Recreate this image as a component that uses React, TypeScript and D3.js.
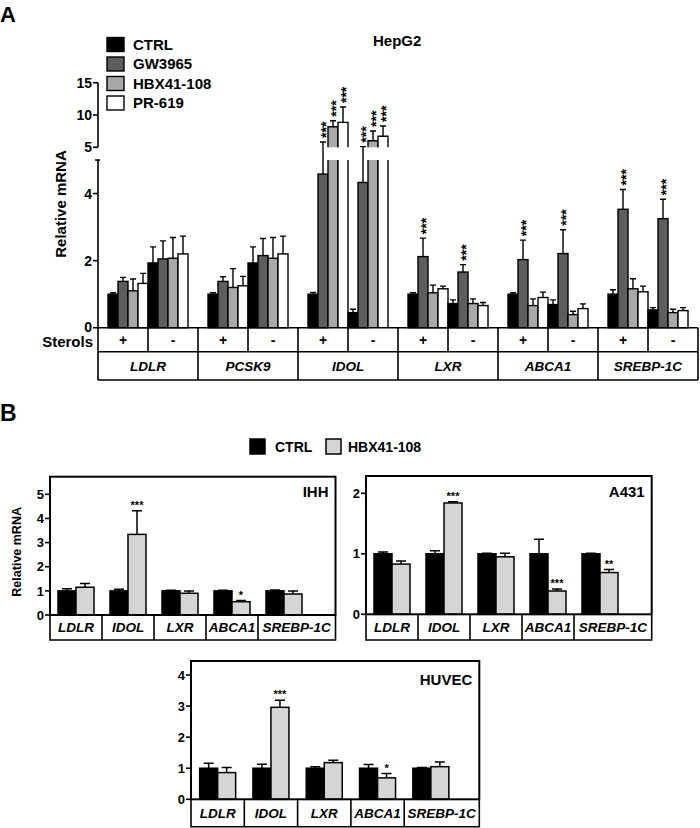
import React from 'react'
import * as d3 from 'd3'

const FONT = '"Liberation Sans", Arial, Helvetica, sans-serif'

// ---- Panel A: HepG2 ----
const genesA = ['LDLR', 'PCSK9', 'IDOL', 'LXR', 'ABCA1', 'SREBP-1C']
const sterols = ['+', '-']
const treatmentsA = ['CTRL', 'GW3965', 'HBX41-108', 'PR-619']
const colorsA = ['#000000', '#5e5e5e', '#a9a9a9', '#ffffff']
// 12 values per treatment: gene by gene, sterols + then -
const ctrlA = [1.0, 1.93, 1.0, 1.93, 1.0, 0.45, 1.0, 0.72, 1.0, 0.69, 1.0, 0.53]
const ctrlErrA = [0.04, 0.48, 0.04, 0.48, 0.05, 0.1, 0.04, 0.11, 0.04, 0.14, 0.13, 0.07]
const gwA = [1.38, 2.05, 1.38, 2.15, 4.58, 4.33, 2.12, 1.66, 2.03, 2.21, 3.53, 3.25]
const gwErrA = [0.12, 0.54, 0.14, 0.51, 1.24, 0.77, 0.55, 0.22, 0.58, 0.71, 0.59, 0.58]
const hbxA = [1.1, 2.07, 1.2, 2.07, 8.18, 6.02, 1.04, 0.72, 0.66, 0.39, 1.16, 0.45]
const hbxErrA = [0.35, 0.62, 0.56, 0.62, 0.93, 1.5, 0.23, 0.14, 0.2, 0.1, 0.3, 0.1]
const prA = [1.32, 2.2, 1.25, 2.2, 8.86, 6.7, 1.16, 0.66, 0.9, 0.57, 1.07, 0.51]
const prErrA = [0.3, 0.53, 0.28, 0.53, 2.37, 1.6, 0.08, 0.09, 0.16, 0.14, 0.17, 0.09]
const gwSigA = ['', '', '', '', '***', '***', '***', '***', '***', '***', '***', '***']
const hbxSigA = ['', '', '', '', '***', '***', '', '', '', '', '', '']
const prSigA = ['', '', '', '', '***', '***', '', '', '', '', '', '']
const ticksALow = [0, 2, 4]
const ticksAHigh = [5, 10, 15]

// ---- Panel B: other cell lines ----
const genesB = ['LDLR', 'IDOL', 'LXR', 'ABCA1', 'SREBP-1C']
const treatmentsB = ['CTRL', 'HBX41-108']
const colorsB = ['#000000', '#d5d5d5']
const ihhCtrl = [1, 1, 1, 1, 1]
const ihhCtrlErr = [0.09, 0.07, 0.03, 0.03, 0.04]
const ihhHbx = [1.15, 3.34, 0.9, 0.55, 0.87]
const ihhHbxErr = [0.16, 0.98, 0.09, 0.05, 0.12]
const ihhSig = ['', '***', '', '*', '']
const ihhTicks = [0, 1, 2, 3, 4, 5]
const a431Ctrl = [1, 1, 1, 1, 1]
const a431CtrlErr = [0.03, 0.05, 0.01, 0.24, 0.01]
const a431Hbx = [0.83, 1.84, 0.95, 0.385, 0.69]
const a431HbxErr = [0.05, 0.02, 0.06, 0.035, 0.05]
const a431Sig = ['', '***', '', '***', '**']
const a431Ticks = [0, 1, 2]
const huvecCtrl = [1, 1, 1, 1, 1]
const huvecCtrlErr = [0.16, 0.13, 0.05, 0.12, 0.02]
const huvecHbx = [0.86, 2.96, 1.18, 0.69, 1.05]
const huvecHbxErr = [0.16, 0.23, 0.08, 0.14, 0.15]
const huvecSig = ['', '***', '', '*', '']
const huvecTicks = [0, 1, 2, 3, 4]

function PanelA() {
  const seriesA = [ctrlA, gwA, hbxA, prA]
  const errA = [ctrlErrA, gwErrA, hbxErrA, prErrA]
  const sigA = [ctrlA.map(() => ''), gwSigA, hbxSigA, prSigA]

  const x0 = 98, x1 = 698
  const yBase = 327.7
  const yLow = d3.scaleLinear().domain([0, 5]).range([yBase, 160])
  const yHigh = d3.scaleLinear().domain([5, 15]).range([147.3, 82.7])
  const yA = (v: number) => (v <= 5 ? yLow(v) : yHigh(v))

  const xGene = d3.scaleBand().domain(genesA).range([x0, x1])
  const gw = xGene.bandwidth()
  const xSterol = d3.scaleBand().domain(sterols).range([10, gw - 10])
  const xTreat = d3.scaleBand().domain(treatmentsA).range([0, xSterol.bandwidth()])
  const bw = xTreat.bandwidth()

  const row1 = 351.7, row2 = 380

  const bars: React.ReactNode[] = []
  const whiskers: React.ReactNode[] = []
  const stars: React.ReactNode[] = []
  genesA.forEach((g, gi) => {
    sterols.forEach((s, si) => {
      const idx = gi * 2 + si
      treatmentsA.forEach((t, ti) => {
        const v = seriesA[ti][idx]
        const e = errA[ti][idx]
        const x = (xGene(g) as number) + (xSterol(s) as number) + (xTreat(t) as number)
        const cx = x + bw / 2
        const key = `${g}-${s}-${t}`
        if (v <= 5) {
          bars.push(
            <rect key={key} x={x} y={yLow(v)} width={bw} height={yBase - yLow(v)}
              fill={colorsA[ti]} stroke="#000" strokeWidth={1.4} />
          )
        } else {
          bars.push(
            <g key={key}>
              <rect x={x} y={yLow(5)} width={bw} height={yBase - yLow(5)} fill={colorsA[ti]} />
              <rect x={x} y={yHigh(v)} width={bw} height={yHigh(5) - yHigh(v)} fill={colorsA[ti]} />
              <path d={`M${x},${yBase}V${yLow(5)}M${x + bw},${yBase}V${yLow(5)}`}
                fill="none" stroke="#000" strokeWidth={1.4} />
              <path d={`M${x},${yHigh(5)}V${yHigh(v)}H${x + bw}V${yHigh(5)}`}
                fill="none" stroke="#000" strokeWidth={1.4} />
            </g>
          )
        }
        const yt = yA(v + e)
        whiskers.push(
          <path key={key + 'e'} d={`M${cx},${yA(v)}V${yt}M${cx - 3},${yt}H${cx + 3}`}
            fill="none" stroke="#000" strokeWidth={1.4} />
        )
        const sg = sigA[ti][idx]
        if (sg) {
          const sy = yt - 4
          stars.push(
            <text key={key + 's'} x={cx} y={sy} dy="0.58em" transform={`rotate(-90,${cx},${sy})`}
              fontSize={14} fontWeight="bold" textAnchor="start">{sg}</text>
          )
        }
      })
    })
  })

  return (
    <g fontFamily={FONT}>
      <text x={0} y={22} fontSize={22} fontWeight="bold">A</text>
      <text x={373} y={46} fontSize={15} fontWeight="bold">HepG2</text>

      {treatmentsA.map((t, i) => (
        <g key={t}>
          <rect x={107} y={37.5 + i * 19.5} width={17} height={14} fill={colorsA[i]} stroke="#000" strokeWidth={1.4} />
          <text x={133} y={44.5 + i * 19.5} dy="0.36em" fontSize={15} fontWeight="bold">{t}</text>
        </g>
      ))}

      {bars}
      {whiskers}
      {stars}

      {/* broken y axis */}
      <g stroke="#000" strokeWidth={1.6} fill="none">
        <path d={`M${x0},${yBase}V${yLow(5)}M${x0 - 3},${yLow(5)}H${x0 + 2}`} />
        <path d={`M${x0},${yHigh(5)}V${yHigh(15)}`} />
        {ticksALow.map(t => <path key={'l' + t} d={`M${x0 - 5},${yLow(t)}H${x0}`} />)}
        {ticksAHigh.map(t => <path key={'h' + t} d={`M${x0 - 5},${yHigh(t)}H${x0}`} />)}
      </g>
      {ticksALow.map(t => (
        <text key={'tl' + t} x={x0 - 6} y={yLow(t) - (t === 0 ? 1 : 0)} dy="0.36em" textAnchor="end" fontSize={14} fontWeight="bold">{t}</text>
      ))}
      {ticksAHigh.map(t => (
        <text key={'th' + t} x={x0 - 6} y={yHigh(t)} dy="0.36em" textAnchor="end" fontSize={14} fontWeight="bold">{t}</text>
      ))}
      <text transform="translate(66,204) rotate(-90)" textAnchor="middle" fontSize={15} fontWeight="bold">Relative mRNA</text>

      {/* sterols / gene table */}
      <g stroke="#000" strokeWidth={1.6} fill="none">
        <path d={`M${x0},${yBase}H${x1}M${x0},${row1}H${x1}M${x0},${row2}H${x1}`} />
        {d3.range(genesA.length * 2 + 1).map(k => (
          <path key={'v1' + k} d={`M${x0 + k * (gw / 2)},${yBase}V${row1}`} />
        ))}
        {d3.range(genesA.length + 1).map(k => (
          <path key={'v2' + k} d={`M${x0 + k * gw},${row1}V${row2}`} />
        ))}
      </g>
      <text x={93} y={342} dy="0.36em" textAnchor="end" fontSize={15} fontWeight="bold">Sterols</text>
      {genesA.map(g => sterols.map((s, si) => (
        <text key={g + s} x={(xGene(g) as number) + si * gw / 2 + gw / 4} y={(yBase + row1) / 2} dy="0.36em"
          textAnchor="middle" fontSize={14} fontWeight="bold">{s}</text>
      )))}
      {genesA.map(g => (
        <text key={g} x={(xGene(g) as number) + gw / 2} y={(row1 + row2) / 2} dy="0.36em" textAnchor="middle"
          fontSize={13.5} fontWeight="bold" fontStyle="italic">{g}</text>
      ))}
    </g>
  )
}

type CellProps = {
  name: string
  ctrl: number[]; ctrlErr: number[]; hbx: number[]; hbxErr: number[]; sig: string[]; ticks: number[]
  left: number; right: number; top: number; zero: number; tickTopPx: number
  bandEnd: number; tableBottom: number; yLabel?: boolean; nameY: number
}

function CellPanel(p: CellProps) {
  const vals = [p.ctrl, p.hbx]
  const errs = [p.ctrlErr, p.hbxErr]
  const y = d3.scaleLinear().domain([0, p.ticks[p.ticks.length - 1]]).range([p.zero, p.tickTopPx])
  const x = d3.scaleBand().domain(genesB).range([p.left, p.bandEnd])
  const step = x.bandwidth()
  const inner = d3.scaleBand().domain(treatmentsB).range([(step - 36) / 2, (step + 36) / 2])
  const bw = inner.bandwidth()

  return (
    <g fontFamily={FONT}>
      {genesB.map((g, gi) => treatmentsB.map((t, ti) => {
        const v = vals[ti][gi]
        const e = errs[ti][gi]
        const bx = (x(g) as number) + (inner(t) as number)
        const cx = bx + bw / 2
        const yt = y(v + e)
        return (
          <g key={g + t}>
            <path d={`M${cx},${y(v)}V${yt}M${cx - 5},${yt}H${cx + 5}`} stroke="#000" strokeWidth={1.5} fill="none" />
            <rect x={bx} y={y(v)} width={bw} height={p.zero - y(v)} fill={colorsB[ti]} stroke="#000" strokeWidth={1.5} />
            {ti === 1 && p.sig[gi] ? (
              <text x={cx} y={yt - 2} textAnchor="middle" fontSize={11} fontWeight="bold">{p.sig[gi]}</text>
            ) : null}
          </g>
        )
      }))}

      <rect x={p.left} y={p.top} width={p.right - p.left} height={p.zero - p.top} fill="none" stroke="#000" strokeWidth={2} />
      <g stroke="#000" strokeWidth={1.6} fill="none">
        {p.ticks.map(t => <path key={t} d={`M${p.left - 5},${y(t)}H${p.left}`} />)}
        <path d={`M${p.left},${p.zero}V${p.tableBottom}H${p.right}V${p.zero}`} />
        {genesB.slice(1).map(g => <path key={g} d={`M${x(g)},${p.zero}V${p.tableBottom}`} />)}
      </g>
      {p.ticks.map(t => (
        <text key={t} x={p.left - 6} y={y(t)} dy="0.36em" textAnchor="end" fontSize={13} fontWeight="bold">{t}</text>
      ))}
      {genesB.map((g, gi) => {
        const a = x(g) as number
        const cx = gi === genesB.length - 1 ? (a + p.right) / 2 : a + step / 2
        return (
          <text key={g} x={cx} y={(p.zero + p.tableBottom) / 2} dy="0.36em" textAnchor="middle"
            fontSize={13.5} fontWeight="bold" fontStyle="italic">{g}</text>
        )
      })}
      <text x={p.right - 7} y={p.nameY} dy="0.36em" textAnchor="end" fontSize={15} fontWeight="bold">{p.name}</text>
      {p.yLabel ? (
        <text transform={`translate(21,${(p.top + p.zero) / 2 + 6}) rotate(-90)`} textAnchor="middle" fontSize={12.5}
          fontWeight="bold">Relative mRNA</text>
      ) : null}
    </g>
  )
}

function PanelB() {
  return (
    <g fontFamily={FONT}>
      <text x={0} y={421} fontSize={23} fontWeight="bold">B</text>
      {treatmentsB.map((t, i) => (
        <g key={t}>
          <rect x={250 + i * 76} y={439} width={15} height={15} fill={colorsB[i]} stroke="#000" strokeWidth={1.5} />
          <text x={275 + i * 73} y={446.5} dy="0.36em" fontSize={14} fontWeight="bold">{t}</text>
        </g>
      ))}
      <CellPanel name="IHH" ctrl={ihhCtrl} ctrlErr={ihhCtrlErr} hbx={ihhHbx} hbxErr={ihhHbxErr} sig={ihhSig}
        ticks={ihhTicks} left={50} right={335.5} top={476.7} zero={615} tickTopPx={494.3}
        bandEnd={310} tableBottom={640} yLabel nameY={492} />
      <CellPanel name="A431" ctrl={a431Ctrl} ctrlErr={a431CtrlErr} hbx={a431Hbx} hbxErr={a431HbxErr} sig={a431Sig}
        ticks={a431Ticks} left={366} right={651.7} top={476} zero={614.3} tickTopPx={493.3}
        bandEnd={626} tableBottom={640} nameY={492} />
      <CellPanel name="HUVEC" ctrl={huvecCtrl} ctrlErr={huvecCtrlErr} hbx={huvecHbx} hbxErr={huvecHbxErr} sig={huvecSig}
        ticks={huvecTicks} left={191} right={479.3} top={661} zero={799.3} tickTopPx={675}
        bandEnd={457.5} tableBottom={826.7} nameY={680} />
    </g>
  )
}

export default function App() {
  return (
    <svg width={700} height={828} viewBox="0 0 700 828"
      style={{ position: 'absolute', left: 0, top: 0, background: '#fff' }}>
      <PanelA />
      <PanelB />
    </svg>
  )
}
